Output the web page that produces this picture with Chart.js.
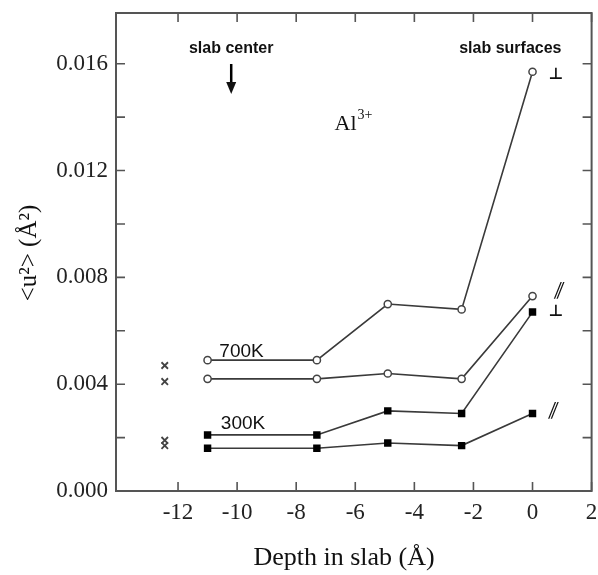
<!DOCTYPE html>
<html>
<head>
<meta charset="utf-8">
<script src="https://cdn.jsdelivr.net/npm/chart.js@4/dist/chart.umd.min.js"></script>
<style>
  html, body { margin: 0; padding: 0; background: #fff; }
  #wrap { width: 598px; height: 575px; }
</style>
</head>
<body>
<div id="wrap"><canvas id="canvas" width="598" height="575"></canvas></div>
<script>
// depth of each layer in the slab (A)
var depth = [-11, -7.3, -4.9, -2.4, 0];
// mean square displacement <u^2> (A^2)
var u700perp = [0.0049, 0.0049, 0.0070, 0.0068, 0.0157];
var u700par  = [0.0042, 0.0042, 0.0044, 0.0042, 0.0073];
var u300perp = [0.0021, 0.0021, 0.0030, 0.0029, 0.0067];
var u300par  = [0.0016, 0.0016, 0.0018, 0.0017, 0.0029];
// bulk values drawn as crosses left of the slab center
var bulkDepth = -12.45;
var bulk700 = [0.0047, 0.0041];
var bulk300 = [0.0019, 0.0017];
// axes
var xTicks = [-12, -10, -8, -6, -4, -2, 0, 2];
var yTicks = [0, 0.004, 0.008, 0.012, 0.016];
var yMinor = [0.002, 0.006, 0.010, 0.014];

function pts(xs, ys) {
  return xs.map(function (x, i) { return { x: x, y: ys[i] }; });
}

var lineCol = '#3a3a3a';

function series(ys, open) {
  return {
    data: pts(depth, ys),
    showLine: true,
    borderColor: lineCol,
    borderWidth: 1.6,
    pointStyle: open ? 'circle' : 'rect',
    pointRadius: open ? 3.6 : 4.2,
    pointBorderWidth: 1.5,
    pointBorderColor: open ? '#444' : '#000',
    pointBackgroundColor: open ? '#fff' : '#000'
  };
}

function crosses(ys) {
  return {
    data: ys.map(function (y) { return { x: bulkDepth, y: y }; }),
    showLine: false,
    pointStyle: 'crossRot',
    pointRadius: 4.6,
    pointBorderWidth: 1.8,
    pointBorderColor: '#444'
  };
}

var serif = '"Liberation Serif", "Times New Roman", serif';
var sans = '"Liberation Sans", Arial, sans-serif';

// slanted "parallel" mark, like the hand-set italic in the figure
function slanted(ctx, text, x, y) {
  ctx.save();
  ctx.translate(x, y);
  ctx.transform(1, 0, -0.4, 1, 0, 0);
  ctx.fillText(text, 0, 0);
  ctx.restore();
}

var decor = {
  id: 'decor',
  afterDraw: function (chart) {
    var ctx = chart.ctx;
    var a = chart.chartArea;
    var xs = chart.scales.x, ys = chart.scales.y;
    ctx.save();

    // frame
    ctx.strokeStyle = '#555';
    ctx.lineWidth = 2;
    ctx.strokeRect(a.left, a.top, a.right - a.left, a.bottom - a.top);

    // inward ticks on all four sides
    ctx.lineWidth = 1.6;
    ctx.beginPath();
    xTicks.forEach(function (v) {
      var px = xs.getPixelForValue(v);
      ctx.moveTo(px, a.bottom); ctx.lineTo(px, a.bottom - 9);
      ctx.moveTo(px, a.top); ctx.lineTo(px, a.top + 9);
    });
    yTicks.concat(yMinor).forEach(function (v) {
      var py = ys.getPixelForValue(v);
      ctx.moveTo(a.left, py); ctx.lineTo(a.left + 9, py);
      ctx.moveTo(a.right, py); ctx.lineTo(a.right - 9, py);
    });
    ctx.stroke();

    ctx.fillStyle = '#111';

    // axis titles
    ctx.font = '26px ' + serif;
    ctx.textAlign = 'center';
    ctx.textBaseline = 'alphabetic';
    ctx.fillText('Depth in slab (\u00c5)', 344, 565);

    ctx.save();
    ctx.translate(36, 253);
    ctx.rotate(-Math.PI / 2);
    ctx.font = '25px ' + serif;
    ctx.fillText('<u\u00b2> (\u00c5\u00b2)', 0, 0);
    ctx.restore();

    // labels at top
    ctx.font = 'bold 16px ' + sans;
    ctx.textAlign = 'center';
    ctx.fillText('slab center', xs.getPixelForValue(-10.2), 53);
    ctx.fillText('slab surfaces', xs.getPixelForValue(-0.75), 53);

    // arrow to slab center
    var ax = xs.getPixelForValue(-10.2);
    ctx.strokeStyle = '#000';
    ctx.lineWidth = 2.5;
    ctx.beginPath();
    ctx.moveTo(ax, 64); ctx.lineTo(ax, 84);
    ctx.stroke();
    ctx.beginPath();
    ctx.moveTo(ax - 5, 82); ctx.lineTo(ax + 5, 82); ctx.lineTo(ax, 94);
    ctx.closePath();
    ctx.fill();

    // ion label
    var lx = xs.getPixelForValue(-6.7), ly = ys.getPixelForValue(0.0135);
    ctx.textAlign = 'left';
    ctx.font = '22px ' + serif;
    ctx.fillText('Al', lx, ly);
    var w = ctx.measureText('Al').width;
    ctx.font = '14px ' + serif;
    ctx.fillText('3+', lx + w + 1, ly - 11);

    // temperatures
    ctx.font = '19px ' + sans;
    ctx.textAlign = 'center';
    ctx.fillText('700K', xs.getPixelForValue(-9.85), ys.getPixelForValue(0.0050));
    ctx.fillText('300K', xs.getPixelForValue(-9.8), ys.getPixelForValue(0.00232));

    // direction markers
    ctx.font = 'bold 16px "DejaVu Sans", sans-serif';
    ctx.textBaseline = 'middle';
    ctx.fillText('\u22a5', xs.getPixelForValue(0.8), ys.getPixelForValue(0.0156));
    ctx.fillText('\u22a5', xs.getPixelForValue(0.8), ys.getPixelForValue(0.0067));
    ctx.font = '17px "DejaVu Sans", sans-serif';
    slanted(ctx, '\u2225', xs.getPixelForValue(0.9), ys.getPixelForValue(0.0075));
    slanted(ctx, '\u2225', xs.getPixelForValue(0.7), ys.getPixelForValue(0.0030));

    ctx.restore();
  }
};

var ctx = document.getElementById('canvas');
var chart = new Chart(ctx, {
  type: 'scatter',
  data: {
    datasets: [
      series(u700perp, true),
      series(u700par, true),
      series(u300perp, false),
      series(u300par, false),
      crosses(bulk700),
      crosses(bulk300)
    ]
  },
  options: {
    responsive: false,
    animation: false,
    layout: { padding: { left: 0, top: 13, right: 5, bottom: 0 } },
    plugins: { legend: { display: false }, tooltip: { enabled: false } },
    scales: {
      x: {
        type: 'linear',
        min: -14.1,
        max: 2,
        grid: { display: false, drawTicks: false },
        border: { display: false },
        afterBuildTicks: function (s) { s.ticks = xTicks.map(function (v) { return { value: v }; }); },
        afterFit: function (s) { s.height = 84; s.paddingLeft = 0; s.paddingRight = 0; },
        ticks: {
          padding: 8,
          color: '#222',
          font: { family: serif, size: 23 },
          callback: function (v) { return String(v); }
        }
      },
      y: {
        type: 'linear',
        min: 0,
        max: 0.0179,
        grid: { display: false, drawTicks: false },
        border: { display: false },
        afterBuildTicks: function (s) { s.ticks = yTicks.map(function (v) { return { value: v }; }); },
        afterFit: function (s) { s.width = 116; s.paddingTop = 0; s.paddingBottom = 0; },
        ticks: {
          padding: 8,
          color: '#222',
          font: { family: serif, size: 23 },
          callback: function (v) { return Number(v).toFixed(3); }
        }
      }
    }
  },
  plugins: [decor]
});
</script>
</body>
</html>
